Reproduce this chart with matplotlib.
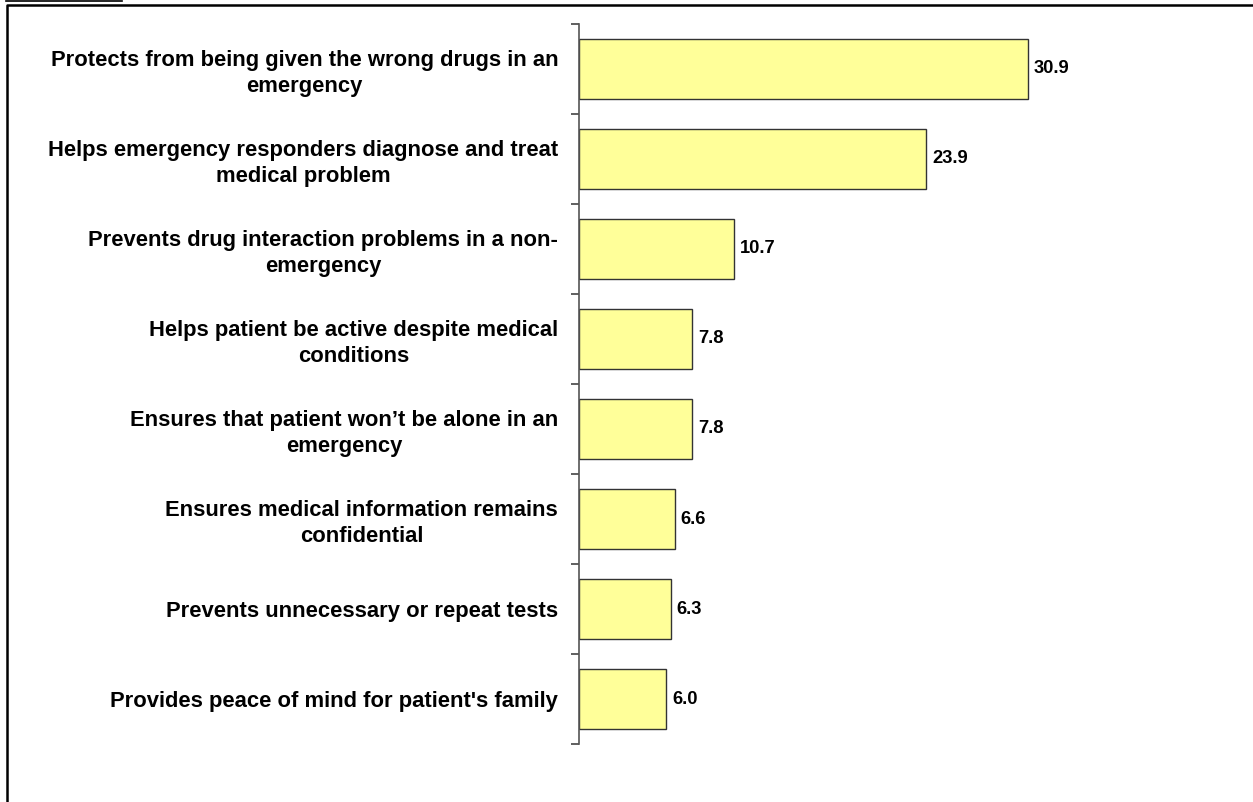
import matplotlib
matplotlib.use("Agg")
import numpy as np
import matplotlib.pyplot as plt
from matplotlib.lines import Line2D

categories = [
    "Protects from being given the wrong drugs in an\nemergency",
    "Helps emergency responders diagnose and treat\nmedical problem",
    "Prevents drug interaction problems in a non-\nemergency",
    "Helps patient be active despite medical\nconditions",
    "Ensures that patient won\u2019t be alone in an\nemergency",
    "Ensures medical information remains\nconfidential",
    "Prevents unnecessary or repeat tests",
    "Provides peace of mind for patient's family",
]
values = [30.9, 23.9, 10.7, 7.8, 7.8, 6.6, 6.3, 6.0]

plt.rcParams['font.family'] = ['Liberation Sans', 'DejaVu Sans']

W, H = 1253, 802
fig = plt.figure(figsize=(W / 100, H / 100), dpi=100)

# axes placed in pixel terms: spine at x=579, ticks from y=24 to y=744
left, right = 579, 1240
top, bottom = 24, 744
ax = fig.add_axes([left / W, 1 - bottom / H, (right - left) / W, (bottom - top) / H])

px_per_unit = (1028 - 579) / 30.9
ax.set_xlim(0, (right - left) / px_per_unit)
ax.set_ylim(len(values) - 0.5, -0.5)

y = np.arange(len(values))
ax.barh(y, values, height=0.667, color="#FFFF99", edgecolor="#333333", linewidth=1)

for yi, v in zip(y, values):
    ax.text(v + 0.4, yi, f"{v:.1f}", va="center", ha="left",
            fontsize=13.2, fontweight="bold")

ax.set_yticks(np.arange(-0.5, len(values), 1.0))
ax.set_yticklabels([])
ax.set_yticks(y, minor=True)
ax.set_yticklabels(categories, minor=True, fontsize=15.8, fontweight="bold",
                   multialignment="center", linespacing=1.28)
ax.tick_params(axis="y", which="major", length=6, width=1.2, color="#444444")
ax.tick_params(axis="y", which="minor", length=0, pad=15)

ax.set_xticks([])
for s in ["top", "right", "bottom"]:
    ax.spines[s].set_visible(False)
ax.spines["left"].set_color("#555555")
ax.spines["left"].set_linewidth(1.2)

# outer frame (partially cut off at right and bottom)
fig.add_artist(Line2D([7 / W, 7 / W, 1.0], [0.0, 1 - 5 / H, 1 - 5 / H],
                      color="black", linewidth=1.8))
# underline of the cut-off figure title
fig.add_artist(Line2D([6 / W, 122 / W], [1 - 1 / H, 1 - 1 / H],
                      color="black", linewidth=1.2))

fig.savefig("out.png", dpi=100)
